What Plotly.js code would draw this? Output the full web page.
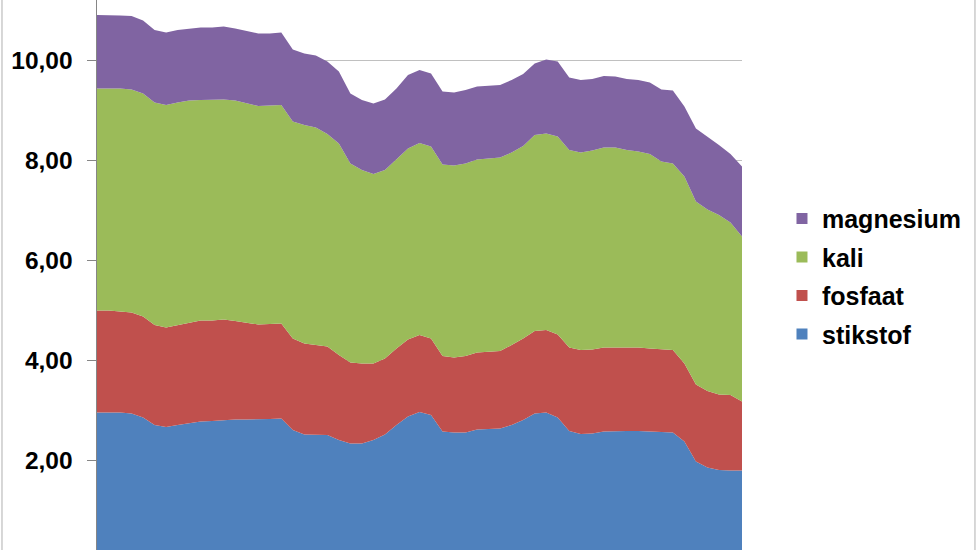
<!DOCTYPE html>
<html>
<head>
<meta charset="utf-8">
<script src="https://cdn.plot.ly/plotly-3.0.1.min.js"></script>
<style>
  html, body { margin: 0; padding: 0; overflow: hidden; background: #ffffff; width: 978px; height: 550px; }
  #chart { position: absolute; left: 0; top: -40px; width: 978px; height: 630px; }
</style>
</head>
<body>
<div id="chart"></div>
<script>
// categories (periods, x positions are unlabeled in the reference)
var periods = [1,2,3,4,5,6,7,8,9,10,11,12,13,14,15,16,17,18,19,20,
               21,22,23,24,25,26,27,28,29,30,31,32,33,34,35,36,37,38,39,40,
               41,42,43,44,45,46,47,48,49,50,51,52,53,54,55,56,57];

var stikstof = [2.95,2.95,2.95,2.93,2.85,2.70,2.66,2.70,2.73,2.77,
                2.78,2.80,2.81,2.81,2.81,2.82,2.83,2.60,2.51,2.51,
                2.50,2.40,2.33,2.33,2.40,2.51,2.70,2.87,2.96,2.90,
                2.57,2.55,2.55,2.61,2.62,2.63,2.70,2.80,2.93,2.95,
                2.85,2.58,2.52,2.53,2.57,2.58,2.58,2.58,2.57,2.55,
                2.55,2.37,1.97,1.85,1.80,1.79,1.79];

var fosfaat = [2.04,2.04,2.02,2.02,2.02,2.00,1.99,2.00,2.02,2.02,
               2.01,2.01,1.97,1.93,1.90,1.90,1.90,1.83,1.82,1.79,
               1.77,1.70,1.62,1.60,1.53,1.52,1.53,1.54,1.54,1.53,
               1.51,1.50,1.53,1.54,1.55,1.55,1.60,1.63,1.65,1.65,
               1.66,1.67,1.68,1.68,1.68,1.67,1.67,1.67,1.66,1.66,
               1.65,1.56,1.54,1.53,1.51,1.51,1.38];

var kali = [4.44,4.44,4.46,4.46,4.46,4.45,4.45,4.45,4.44,4.41,
            4.41,4.40,4.41,4.39,4.37,4.37,4.37,4.34,4.37,4.35,
            4.25,4.23,3.98,3.87,3.79,3.77,3.78,3.82,3.84,3.84,
            3.83,3.84,3.85,3.86,3.86,3.87,3.85,3.85,3.92,3.93,
            3.96,3.95,3.95,3.98,4.00,4.00,3.95,3.92,3.89,3.76,
            3.73,3.74,3.66,3.63,3.59,3.45,3.30];

var magnesium = [1.47,1.47,1.46,1.47,1.46,1.45,1.45,1.45,1.44,1.45,
                 1.45,1.46,1.44,1.45,1.45,1.44,1.45,1.44,1.43,1.44,
                 1.45,1.44,1.40,1.40,1.41,1.41,1.42,1.47,1.46,1.46,
                 1.46,1.46,1.47,1.46,1.46,1.45,1.45,1.44,1.43,1.48,
                 1.50,1.45,1.45,1.43,1.43,1.42,1.42,1.43,1.43,1.44,
                 1.46,1.40,1.46,1.46,1.40,1.37,1.40];

var seriesNames = ['stikstof', 'fosfaat', 'kali', 'magnesium'];
var yTicks = [0, 2, 4, 6, 8, 10, 12];

var colors = {
  stikstof: '#4F81BD',
  fosfaat: '#C0504D',
  kali: '#9BBB59',
  magnesium: '#8064A2'
};
var seriesData = { stikstof: stikstof, fosfaat: fosfaat, kali: kali, magnesium: magnesium };

var FONT = 'Liberation Sans, Arial, Helvetica, sans-serif';
var traces = [];

seriesNames.forEach(function (name) {
  traces.push({
    type: 'scatter',
    mode: 'lines',
    x: periods,
    y: seriesData[name],
    name: name,
    stackgroup: 'one',
    line: { width: 0, color: colors[name] },
    fillcolor: colors[name],
    showlegend: false,
    hoverinfo: 'skip'
  });
});

// legend entries (square markers), listed top to bottom
['magnesium', 'kali', 'fosfaat', 'stikstof'].forEach(function (name) {
  traces.push({
    type: 'scatter',
    mode: 'markers',
    x: [null],
    y: [null],
    name: name,
    legendgroup: name,
    marker: { symbol: 'square', size: 11, color: colors[name] },
    showlegend: true,
    hoverinfo: 'skip'
  });
});

var layout = {
  width: 978,
  height: 630,
  margin: { l: 97, r: 236, t: 0, b: 30 },
  paper_bgcolor: '#ffffff',
  plot_bgcolor: '#ffffff',
  separators: ',.',
  showlegend: true,
  legend: {
    x: 1.062,
    xanchor: 'left',
    y: 0.607,
    yanchor: 'top',
    traceorder: 'grouped',
    tracegroupgap: 3,
    font: { family: FONT, size: 25, color: '#000000', weight: 'bold' },
    bgcolor: 'rgba(0,0,0,0)'
  },
  xaxis: {
    range: [1, 57],
    showgrid: false,
    zeroline: false,
    showticklabels: false,
    showline: false,
    ticks: ''
  },
  yaxis: {
    range: [0, 12],
    tickvals: yTicks,
    tickformat: '.2f',
    showgrid: true,
    gridcolor: '#C0C0C0',
    gridwidth: 1,
    zeroline: false,
    showline: true,
    linecolor: '#868686',
    linewidth: 1.5,
    ticks: 'outside',
    ticklen: 9,
    tickcolor: '#868686',
    tickwidth: 1,
    ticklabelstandoff: 9,
    tickfont: { family: FONT, size: 24.5, color: '#000000', weight: 'bold' }
  },
  shapes: [
    { type: 'line', xref: 'paper', yref: 'paper', x0: -0.1473, x1: -0.1473, y0: -0.1, y1: 1, line: { color: '#B0B0B0', width: 1 } },
    { type: 'line', xref: 'paper', yref: 'paper', x0: 1.3612, x1: 1.3612, y0: -0.1, y1: 1, line: { color: '#B0B0B0', width: 1 } },
    { type: 'rect', xref: 'paper', yref: 'paper', x0: 1.2884, x1: 1.3535, y0: -0.0433, y1: -0.0833, fillcolor: '#F2F050', line: { width: 0 } },
    { type: 'rect', xref: 'paper', yref: 'paper', x0: 1.2992, x1: 1.3488, y0: -0.0533, y1: -0.0833, fillcolor: '#A9C86A', line: { width: 0 } }
  ]
};

Plotly.newPlot('chart', traces, layout, { staticPlot: true, displayModeBar: false });
</script>
</body>
</html>
